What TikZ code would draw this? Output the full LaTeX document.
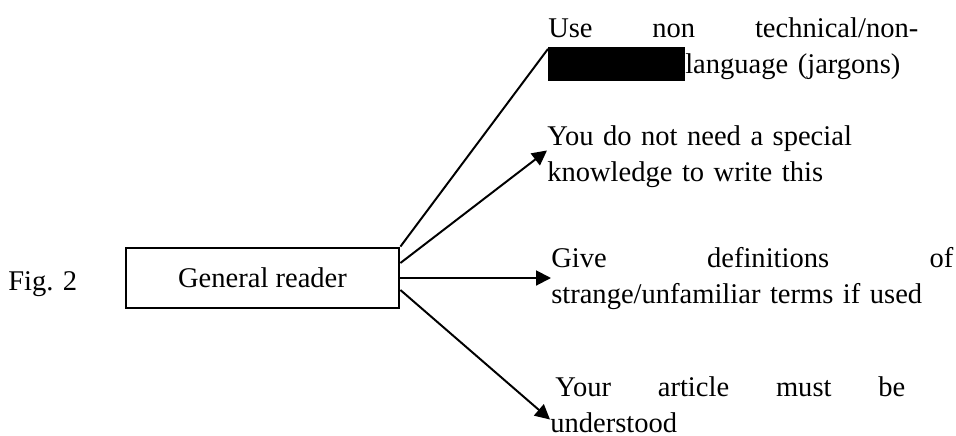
\documentclass[tikz,border=0pt]{standalone}
\usepackage{fontspec}
\setmainfont{Liberation Serif}
\usetikzlibrary{arrows.meta}
\tikzset{
  txt/.style={inner sep=0, anchor=base west, align=left, font=\fontsize{20.3pt}{26pt}\selectfont},
  readerbox/.style={draw, line width=2pt, minimum width=6.825cm, minimum height=1.5cm, inner sep=0, font=\fontsize{20.3pt}{26pt}\selectfont},
  arr/.style={line width=1.4pt, -{Triangle[length=0.37cm,width=0.37cm]}}
}
\begin{document}
\begin{tikzpicture}
			%%%%% START %%%%%
			
			\useasboundingbox (0, 0) rectangle (23.9, -10.875);
			
			\node[txt] (fig) at (0.2, -7.25) {Fig. 2};
			\node[readerbox] (gr) at (6.5625, -6.95) {General reader};
			
			\node[txt, text width=9.25cm] (t1) at (13.7, -0.925) {Use\hfill non\hfill technical/non-\\\rule[-0.175cm]{3.425cm}{0.85cm}language (jargons)};
			\node[txt, text width=9.5cm] (t2) at (13.675, -3.625) {You do not need a special\\knowledge to write this};
			\node[txt, text width=10.05cm] (t3) at (13.775, -6.675) {Give\hfill definitions\hfill of\\strange/unfamiliar terms if used};
			\node[txt, text width=8.875cm] (t4) at (13.75, -9.9) {\hspace*{0.125cm}Your\hfill article\hfill must\hfill be\hspace*{0.125cm}\\understood};
			
			\draw[line width=1.4pt] (gr.north east) -- (t1.west);
			\draw[arr] ([yshift=0.375cm]gr.east) -- ([yshift=0.15cm]t2.west);
			\draw[arr] (gr.east) -- (gr.east -| t3.west);
			\draw[arr] ([yshift=-0.3cm]gr.east) -- ([yshift=-0.375cm]t4.west);
			
			%%%%% END %%%%%
\end{tikzpicture}
\end{document}
